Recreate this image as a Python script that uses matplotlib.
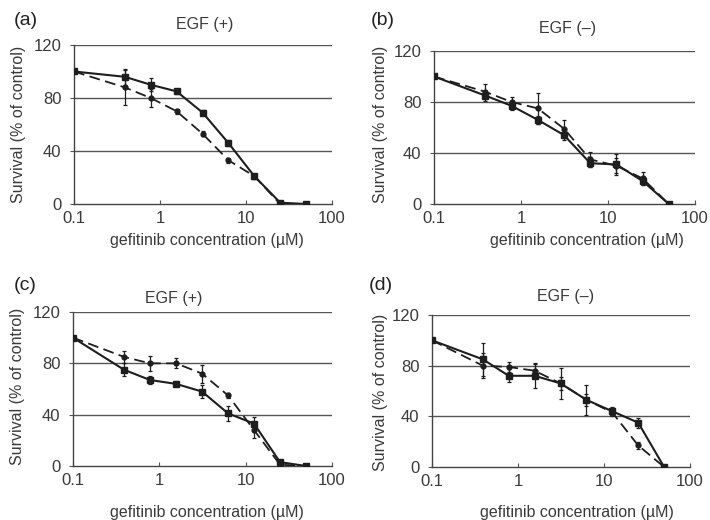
import matplotlib
matplotlib.use("Agg")
import matplotlib.pyplot as plt
from matplotlib.ticker import FixedLocator, NullLocator

plt.rcParams['font.family'] = ['Liberation Sans', 'DejaVu Sans']

conc = [0.1, 0.39, 0.78, 1.56, 3.125, 6.25, 12.5, 25, 50]
xtick_vals = [0.1, 1, 10, 100]
xtick_labels = ["0.1", "1", "10", "100"]
ytick_vals = [0, 40, 80, 120]

panel_letters = ["(a)", "(b)", "(c)", "(d)"]
panel_titles = ["EGF (+)", "EGF (\u2013)", "EGF (+)", "EGF (\u2013)"]
xlabel_text = "gefitinib concentration (\u00b5M)"
ylabel_text = "Survival (% of control)"

a_solid = [100, 96, 90, 85, 69, 46, 21, 1, 0]
a_solid_err = [0, 6, 5, 2, 2, 2, 2, 0, 0]
a_dashed = [100, 88, 80, 70, 53, 33, 21, 0, 0]
a_dashed_err = [0, 13, 7, 2, 2, 2, 2, 0, 0]

b_solid = [100, 85, 77, 66, 54, 32, 31, 18, 0]
b_solid_err = [0, 4, 3, 3, 4, 3, 8, 3, 0]
b_dashed = [100, 88, 80, 75, 59, 35, 30, 20, 0]
b_dashed_err = [0, 6, 4, 12, 7, 6, 6, 5, 0]

c_solid = [100, 75, 67, 64, 58, 41, 33, 3, 0]
c_solid_err = [0, 5, 3, 2, 5, 6, 5, 2, 0]
c_dashed = [100, 85, 80, 80, 72, 55, 28, 1, 0]
c_dashed_err = [0, 5, 6, 4, 7, 2, 6, 3, 0]

d_solid = [100, 85, 72, 72, 66, 53, 44, 35, 0]
d_solid_err = [0, 13, 5, 10, 12, 12, 3, 4, 0]
d_dashed = [100, 80, 79, 76, 66, 53, 43, 17, 0]
d_dashed_err = [0, 10, 4, 5, 5, 5, 3, 3, 0]

panels = [
    (a_solid, a_solid_err, a_dashed, a_dashed_err),
    (b_solid, b_solid_err, b_dashed, b_dashed_err),
    (c_solid, c_solid_err, c_dashed, c_dashed_err),
    (d_solid, d_solid_err, d_dashed, d_dashed_err),
]

W, H = 710, 520
# layout in pixels
rects_px = [
    (74, 332, 45, 204),
    (434, 695, 51, 204),
    (73, 332, 312, 466),
    (432, 690, 315, 467),
]
letter_px = [(14, 12), (371, 12), (14, 277), (369, 277)]      # left, top
title_px = [(205, 25), (568, 28), (174, 298), (566, 297)]     # center
xlabel_px = [(207, 241), (587, 241), (207, 513), (577, 512)]  # center
ylabel_px = [(19, 124), (381, 124), (18, 386), (381, 392)]    # center

fig = plt.figure(figsize=(7.1, 5.2), dpi=100)
text_col = "#3a3a3a"
line_col = "#1e1e1e"

def fx(px):
    return px / W

def fy(py):
    return 1 - py / H

for i, (rect, data) in enumerate(zip(rects_px, panels)):
    l, r, t, b = rect
    ax = fig.add_axes([l / W, 1 - b / H, (r - l) / W, (b - t) / H])
    s, se, d, de = data
    ax.errorbar(conc, d, yerr=de, color=line_col, lw=1.3, dashes=(6, 3),
                marker='o', ms=3.5, elinewidth=0.9, capsize=1.5, capthick=0.9,
                zorder=3)
    ax.errorbar(conc, s, yerr=se, color=line_col, lw=1.5, ls='-',
                marker='s', ms=5, elinewidth=0.9, capsize=1.5, capthick=0.9,
                zorder=4)
    ax.set_xscale('log')
    ax.set_xlim(0.1, 100)
    ax.set_ylim(0, 120)
    ax.xaxis.set_major_locator(FixedLocator(xtick_vals))
    ax.xaxis.set_minor_locator(NullLocator())
    ax.set_xticklabels(xtick_labels)
    ax.set_yticks(ytick_vals)
    for yv in ytick_vals[1:]:
        ax.axhline(yv, color="#555555", lw=1.0, zorder=1)
    for sp in ['top', 'right']:
        ax.spines[sp].set_visible(False)
    for sp in ['left', 'bottom']:
        ax.spines[sp].set_color("#444444")
        ax.spines[sp].set_linewidth(1.0)
    ax.tick_params(axis='x', direction='in', length=3, width=0.8,
                   colors="#555555", labelcolor=text_col, labelsize=12, pad=5)
    ax.tick_params(axis='y', direction='out', length=3, width=0.8,
                   colors="#555555", labelcolor=text_col, labelsize=12, pad=6)

    fig.text(fx(letter_px[i][0]), fy(letter_px[i][1]), panel_letters[i],
             fontsize=14, color="#222222", ha='left', va='top')
    fig.text(fx(title_px[i][0]), fy(title_px[i][1]), panel_titles[i],
             fontsize=11.5, color=text_col, ha='center', va='center')
    fig.text(fx(xlabel_px[i][0]), fy(xlabel_px[i][1]), xlabel_text,
             fontsize=11.5, color=text_col, ha='center', va='center')
    fig.text(fx(ylabel_px[i][0]), fy(ylabel_px[i][1]), ylabel_text,
             fontsize=11.5, color=text_col, ha='center', va='center',
             rotation=90)

fig.savefig("out.png", dpi=100)
